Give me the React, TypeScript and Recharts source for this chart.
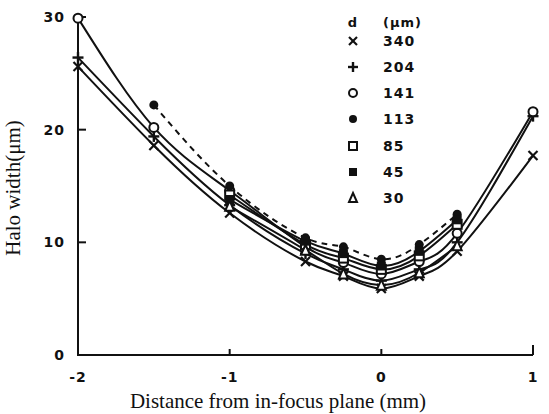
import React from 'react';
import { LineChart, Line, XAxis, YAxis } from 'recharts';

// distance from in-focus plane (mm) where the halo width was measured
const positions = [-2, -1.5, -1, -0.5, -0.25, 0, 0.25, 0.5, 1];

// halo width (um) per particle diameter, null = not measured
const d340 = [25.6, 18.6, 12.6, 8.3, 7.0, 5.9, 7.0, 9.2, 17.7];
const d204 = [26.4, 19.4, 13.3, 9.0, 7.6, 6.6, 7.6, 10.0, 21.2];
const d141 = [29.9, 20.2, 14.6, 9.6, 8.2, 7.2, 8.3, 10.8, 21.6];
const d113 = [null, 22.2, 15.0, 10.4, 9.6, 8.5, 9.8, 12.5, null];
const d85 = [null, null, 14.2, 9.8, 8.6, 7.6, 8.8, 11.6, null];
const d45 = [null, null, 13.8, 10.1, 9.0, 7.9, 9.2, 12.0, null];
const d30 = [null, null, 13.2, 9.3, 7.2, 6.2, 7.3, 9.7, null];

const diameters = ['340', '204', '141', '113', '85', '45', '30'];
const markers = ['x', 'plus', 'circle', 'disc', 'square', 'block', 'triangle'];
const values = [d340, d204, d141, d113, d85, d45, d30];

const xTicks = [-2, -1, 0, 1];
const yTicks = [0, 10, 20, 30];
const xDomain = [-2, 1];
const yDomain = [0, 30];

const W = 549;
const H = 414;
const plot = { left: 78, right: 533, top: 17, bottom: 355 };
const Y_AXIS_W = 60;
const X_AXIS_H = 40;

const ink = '#111';
const tickFont = { fontFamily: 'DejaVu Sans', fontWeight: 700, fontSize: 14, letterSpacing: 1 };
const titleFont = { fontFamily: 'Liberation Serif', fontSize: 21 };

const toPoints = (vals: (number | null)[]) =>
  vals.map((v, i) => (v == null ? null : { x: positions[i], y: v })).filter(Boolean) as { x: number; y: number }[];

const sx = (v: number) => plot.left + ((v - xDomain[0]) / (xDomain[1] - xDomain[0])) * (plot.right - plot.left);
const sy = (v: number) => plot.bottom - ((v - yDomain[0]) / (yDomain[1] - yDomain[0])) * (plot.bottom - plot.top);

function Marker({ kind, cx, cy, s = 4.5 }: { kind: string; cx: number; cy: number; s?: number }) {
  switch (kind) {
    case 'x':
      return (
        <g stroke={ink} strokeWidth={2.2}>
          <line x1={cx - s} y1={cy - s} x2={cx + s} y2={cy + s} />
          <line x1={cx - s} y1={cy + s} x2={cx + s} y2={cy - s} />
        </g>
      );
    case 'plus':
      return (
        <g stroke={ink} strokeWidth={2.4}>
          <line x1={cx - s - 1} y1={cy} x2={cx + s + 1} y2={cy} />
          <line x1={cx} y1={cy - s - 1} x2={cx} y2={cy + s + 1} />
        </g>
      );
    case 'circle':
      return <circle cx={cx} cy={cy} r={s} fill="#fff" stroke={ink} strokeWidth={2} />;
    case 'disc':
      return <circle cx={cx} cy={cy} r={s} fill={ink} />;
    case 'square':
      return <rect x={cx - s} y={cy - s} width={2 * s} height={2 * s} fill="#fff" stroke={ink} strokeWidth={2} />;
    case 'block':
      return <rect x={cx - s} y={cy - s} width={2 * s} height={2 * s} fill={ink} />;
    default:
      return (
        <polygon
          points={`${cx},${cy - s - 1} ${cx + s},${cy + s} ${cx - s},${cy + s}`}
          fill="#fff"
          stroke={ink}
          strokeWidth={2}
        />
      );
  }
}

const XTick = (p: any) => {
  const v = p.payload.value;
  return (
    <text x={p.x} y={p.y + 27} textAnchor="middle" fill={ink} style={tickFont}>
      {v < 0 ? `-${Math.abs(v)}` : v}
    </text>
  );
};

const YTick = (p: any) => (
  <text x={p.x - 13} y={p.y + 5} textAnchor="end" fill={ink} style={tickFont}>
    {p.payload.value}
  </text>
);

// axis frame (left + bottom only) with inward ticks, like the scanned figure
const Frame = () => (
  <g stroke={ink} strokeWidth={2} fill="none">
    <path d={`M${plot.left},${plot.top}V${plot.bottom}H${plot.right}`} />
    {xTicks
      .filter((v) => v !== xDomain[0])
      .map((v) => (
        <path key={`xt${v}`} d={`M${sx(v)},${plot.bottom}V${plot.bottom - (v === xDomain[1] ? 10 : 6)}`} />
      ))}
    {yTicks
      .filter((v) => v !== yDomain[0])
      .map((v) => (
        <path key={`yt${v}`} d={`M${plot.left},${sy(v)}H${plot.left + 8}`} />
      ))}
  </g>
);

const rowY = [46, 72, 98, 124, 151, 177, 203];

const LegendAndTitles = () => (
  <g>
    <text x={353} y={27} textAnchor="middle" fill={ink} style={{ ...tickFont, fontSize: 13 }}>
      d
    </text>
    <text x={383} y={27} fill={ink} style={{ ...tickFont, fontSize: 13 }}>
      (μm)
    </text>
    {diameters.map((d, i) => (
      <g key={d}>
        <Marker kind={markers[i]} cx={353} cy={rowY[i] - 5} s={4} />
        <text x={383} y={rowY[i]} fill={ink} style={tickFont}>
          {d}
        </text>
      </g>
    ))}
    <text x={278} y={408} textAnchor="middle" fill={ink} style={titleFont}>
      Distance from in-focus plane (mm)
    </text>
    <text x={20} y={188} textAnchor="middle" fill={ink} transform="rotate(-90 20 188)" style={titleFont}>
      Halo width(μm)
    </text>
  </g>
);

export default function App() {
  return (
    <div style={{ position: 'absolute', left: 0, top: 0, width: W, height: H, background: '#fff' }}>
      <LineChart
        width={W}
        height={H}
        margin={{
          top: plot.top,
          right: W - plot.right,
          bottom: H - plot.bottom - X_AXIS_H,
          left: plot.left - Y_AXIS_W,
        }}
      >
        <XAxis
          dataKey="x"
          type="number"
          domain={xDomain}
          ticks={xTicks}
          height={X_AXIS_H}
          tickSize={0}
          tickMargin={0}
          tickLine={false}
          axisLine={false}
          tick={XTick}
        />
        <YAxis
          dataKey="y"
          type="number"
          domain={yDomain}
          ticks={yTicks}
          width={Y_AXIS_W}
          tickSize={0}
          tickMargin={0}
          tickLine={false}
          axisLine={false}
          tick={YTick}
        />
        <Frame />
        {values.map((vals, i) => (
          <Line
            key={diameters[i]}
            data={toPoints(vals)}
            dataKey="y"
            name={diameters[i]}
            type="natural"
            stroke={ink}
            strokeWidth={2}
            strokeDasharray={diameters[i] === '113' ? '6 5' : undefined}
            dot={(p: any) =>
              p.cx == null ? (
                <g key={`${diameters[i]}-${p.index}`} />
              ) : (
                <Marker key={`${diameters[i]}-${p.index}`} kind={markers[i]} cx={p.cx} cy={p.cy} />
              )
            }
            activeDot={false}
            isAnimationActive={false}
          />
        ))}
        <LegendAndTitles />
      </LineChart>
    </div>
  );
}
